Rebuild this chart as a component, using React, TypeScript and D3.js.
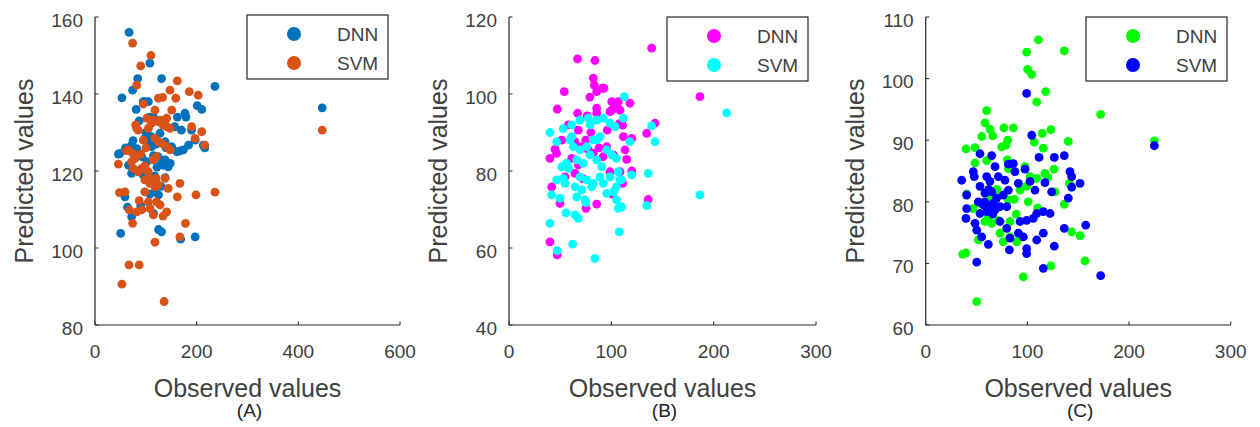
import React from "react";
import * as d3 from "d3";

type Pt = [number, number];

// Panel (A): observed vs predicted
const dnnA: Pt[] = [
  [67,156],[108,148],[131,144],[84,144],[74,141],[236,142],[447,136.4],[53,139],[95,138],[105,138],
  [81,136],[201,137],[210,136],[162,134],[179,134],[87,133],[107,134],[115,134],[46,124.4],[66,121.5],
  [72,119.4],[148,122],[138,122],[130,121.7],[184,126.7],[216,126],[167,125.2],[59,113.3],[64,110.6],[72,108.1],
  [50.5,103.8],[125,104.8],[131,104.2],[168.5,102.3],[197,102.9],[118,114.6],[125,113.8],[75,127.9],[72,126.7],[82,125.8],
  [98,128.5],[105,127.2],[111.5,126.3],[128,129.8],[138,127.6],[151,126.3],[161,125],[174,125.5],[49,124.6],[69,121.5],
  [92,123.7],[102,122.4],[134,121.5],[144,121.1],[190,130.6],[197,128],[213,126.7],[157,131.5],[170,130.6],[124.6,123.7],
  [138,122.9],[118,118.7],[138,118.3],[177,135],[98,138],[110,129],[120,127],[115,124],[100,130],[130,116],
  [85,120],[95,119],[140,126],[122,121],[108,114],[115,109],[60,126],[90,111]
];
const svmA: Pt[] = [
  [74,153.2],[110,150],[90,147.3],[82,142.3],[162,143.4],[147.5,141],[159,138.9],[185.5,140.6],[203,139.7],[124.6,138.9],
  [133,139.1],[95,137.4],[151,135.8],[118,135.8],[101.7,133.7],[114.7,133.2],[124.6,132.8],[137.7,133.2],[147.5,131.1],[190,131.5],
  [210,130.2],[82,131.1],[216,126.7],[46,121.8],[62,125.3],[74,124.6],[90,124.4],[72,122.4],[75,120.7],[92,120.7],
  [98,121.3],[105,119.8],[108,118.1],[115,116.8],[124.6,116.4],[120,118.1],[137.7,118.1],[144,115.5],[167,116.8],[162,113.3],
  [198.7,113.8],[236,114.5],[48,114.4],[59,114.6],[98,114.6],[87,112.3],[105,112],[121,112],[128,111.2],[108,110.3],
  [92,109.9],[82,109.4],[67.5,109.9],[141,109.4],[114.7,108.6],[134,108.3],[74,106.4],[178,106.4],[167,102.9],[118,101.5],
  [67,95.6],[87,95.6],[53,90.6],[136,86.1],[447,130.6],[85,130.6],[105,131.1],[111.5,132.4],[128,133.2],[134,131.9],
  [141,131.5],[118,128.5],[124.6,127.6],[131,127.2],[141,126.3],[147.5,125.5],[197,128.5],[65.6,125.5],[79,123.3],[85,119.8],
  [114.7,122.9],[121,123.7],[98,117.7],[108,116.8],[118,115.9],[141,133.7],[80,132],[100,126],[95,128]
];

// Panel (B)
const dnnB: Pt[] = [
  [139.4,111.9],[67,109.1],[84,108.7],[82.4,104.1],[83.4,102.3],[85.7,100.6],[92.8,101.5],[79,99.2],[54,100.6],[47.2,96.1],
  [186.6,99.3],[85.7,96.3],[85.7,95],[100.4,98],[106.8,98],[103.6,96.3],[108.5,95.8],[118.2,97.6],[98.7,95.4],[67,95],
  [76.5,94.3],[107.8,92.3],[111,91.9],[67.7,90.6],[96,90.6],[142.7,92.4],[134.6,89.8],[111.7,88.9],[120,88.5],[113.4,85.5],
  [45,85.6],[40,83.3],[51.5,88],[64.5,87.6],[71,86.3],[77.5,85.5],[82.4,84.6],[95.5,86.3],[102,84.2],[92,83.7],
  [61.3,83.3],[67.7,81.6],[98.7,79.8],[41.7,75.9],[54.7,78.5],[64.5,79.4],[49.8,71.6],[75.2,70.3],[85.7,71.4],[101,74],
  [111,76.8],[136,72.6],[40,61.6],[47.2,58.2],[108.5,79.8],[46.5,84.6],[91.5,101.5],[105,96.7],[100.4,95.8],[75,88],
  [88,86],[80,90],[58,92],[115,83],[120,80],[72,78]
];
const svmB: Pt[] = [
  [112.7,99.3],[212.7,95.1],[186.6,73.8],[139.4,91.7],[142.7,87.6],[136.1,79.4],[134.6,71],[111.7,93.7],[118.2,87.6],[119.9,79],
  [110,77.7],[110,70.7],[107.8,64.2],[105,72.5],[106.8,70.3],[40,90],[46.6,87.6],[53,91],[61.3,88.9],[69.4,93.2],
  [77.5,93.7],[85.7,93.2],[92,93.7],[51.5,81.1],[58,80.7],[46.6,77.7],[54.7,76.8],[41.7,73.8],[49.8,72.9],[55.7,69.1],
  [64.5,68.6],[67.7,67.7],[40,66.4],[47.2,59.3],[62.2,61],[84,57.3],[75.2,71.8],[95.5,74.2],[102,74.6],[59.6,88.1],
  [62.8,86.3],[69.4,85.5],[75.9,86.3],[82.4,88.1],[88.9,88.9],[95.5,85.5],[100.4,84.2],[105,83.3],[66.2,82.9],[72.6,82],
  [79.2,84.2],[85.7,82.9],[90.6,81.1],[69.4,78.5],[75.9,77.7],[82.4,76.8],[88.9,78.5],[64.5,75.9],[71,75.1],[66.2,73.3],
  [74.3,72.5],[80.8,75.9],[92.2,76.8],[98.7,78.5],[106.8,79.8],[105,75.9],[108.5,77.7],[56.4,82],[53.1,78.1],[85.7,88.1],
  [98.7,92.4],[103.6,91.5],[61.3,92],[79.2,92]
];

// Panel (C)
const dnnC: Pt[] = [
  [110.8,106.3],[99.3,104.3],[136.3,104.5],[100.3,101.5],[104.3,100.7],[118,97.9],[109.2,96.2],[172.1,94.2],[60,94.8],[58.3,92.8],
  [63.2,91.8],[65.9,90.7],[55.1,90.6],[77,92],[86.2,92],[123.2,91.7],[114.7,91.1],[80.6,90],[74.8,88.9],[79,89.2],
  [106.8,89.7],[115.7,88.7],[140.3,89.8],[39.6,88.6],[48.5,88.8],[48.5,86.3],[60,86.7],[80.3,86.8],[81.3,85.4],[97.7,85.7],
  [126.2,85.3],[117.3,84.6],[141.3,83],[143.6,82.4],[102.6,84.1],[109.2,83.8],[127.2,81.6],[87.2,80.4],[100.9,80],[136.3,79.6],
  [40.3,81.3],[53.4,79.8],[46.8,78.9],[61.6,77.6],[58.3,76.8],[64.9,76.5],[82.9,76.8],[73.1,74.9],[76.3,73.5],[89.5,73.5],
  [82.9,74.3],[51.7,73.8],[94.4,74.3],[143.6,75.1],[151.8,74.5],[36.4,71.5],[39.6,71.7],[156.7,70.4],[123.2,69.6],[96,67.8],
  [50.2,63.8],[224.9,89.9],[99.3,82.5],[92.8,81.9],[81.3,80.3],[71.4,77],[70,82],[64,80.5],[89,78],[110,79],
  [120,84]
];
const svmC: Pt[] = [
  [99.3,97.6],[104.3,90.8],[53.4,87.8],[64.9,87.5],[111.5,87.2],[126.5,87.2],[136.3,87.5],[46.8,84.9],[47.8,84.1],[35.4,83.5],
  [40.3,81.1],[40.3,78.9],[39.6,77.3],[68.2,85.7],[81.3,86.1],[87.8,84.9],[97.7,85.3],[60,84.1],[63.2,83.3],[71.4,84.1],
  [78,83.5],[91.1,83],[102.6,83.3],[107.5,81.9],[117.3,83.1],[123.9,81.6],[141.9,84.9],[143.6,84.1],[151.8,83],[143.6,82.4],
  [140.3,80.6],[53.4,82.5],[58.3,81.4],[64.9,81.6],[69.8,80.6],[76.3,81.1],[81.3,81.9],[51.7,80],[56.7,79.5],[61.6,79.2],
  [66.5,79.8],[73.1,79.2],[79.7,79.2],[53.4,78.1],[60,78.4],[68.2,78.7],[48.5,76.5],[50.2,75.4],[55.1,74.3],[61.6,73.1],
  [50.2,70.2],[73.1,76.8],[79.7,75.7],[82.9,74.1],[82.3,72.2],[92.8,76.8],[99.3,77],[105.8,77.3],[109.2,78.1],[115.7,78.4],
  [122.3,78.1],[91.1,74.9],[96,74.3],[109.2,73.8],[115.7,74.9],[99.3,72.4],[99.3,71.6],[126.5,72.8],[136.3,75.7],[157.4,76.2],
  [115.7,69.2],[172.1,68],[224.9,89.1],[86.2,86.2],[58,80],[62,82],[66,78]
];

const seriesNames = ["DNN", "SVM"];
const xTicksA = [0, 200, 400, 600];
const yTicksA = [80, 100, 120, 140, 160];
const xTicksBC = [0, 100, 200, 300];
const yTicksB = [40, 60, 80, 100, 120];
const yTicksC = [60, 70, 80, 90, 100, 110];
const panelLabels = ["(A)", "(B)", "(C)"];
const xTitle = "Observed values";
const yTitle = "Predicted values";

const panels = [
  { left: 95, right: 400, xDom: [0, 600], yDom: [80, 160], xTicks: xTicksA, yTicks: yTicksA,
    series: [dnnA, svmA], colors: ["#0072BD", "#D95319"], legendX: 247, legendY: 15, label: panelLabels[0] },
  { left: 509, right: 816, xDom: [0, 300], yDom: [40, 120], xTicks: xTicksBC, yTicks: yTicksB,
    series: [dnnB, svmB], colors: ["#FF00FF", "#00FFFF"], legendX: 667, legendY: 17, label: panelLabels[1] },
  { left: 925.7, right: 1230.7, xDom: [0, 300], yDom: [60, 110], xTicks: xTicksBC, yTicks: yTicksC,
    series: [dnnC, svmC], colors: ["#00FF00", "#0000FF"], legendX: 1086, legendY: 17, label: panelLabels[2] },
];

const TOP = 17;
const BOTTOM = 325;
const AX = "#262626";
const TXT = "#404040";
const FONT = "'Liberation Sans', Arial, Helvetica, sans-serif";

function Panel({ p }: { p: typeof panels[number] }) {
  const x = d3.scaleLinear().domain(p.xDom).range([p.left, p.right]);
  const y = d3.scaleLinear().domain(p.yDom).range([BOTTOM, TOP]);
  const cx = (p.left + p.right) / 2;
  const cy = (TOP + BOTTOM) / 2;
  const lw = 141, lh = 64;
  return (
    <g fontFamily={FONT}>
      {p.series.map((s, si) => (
        <g key={si} fill={p.colors[si]}>
          {s.map((d, i) => (
            <circle key={i} cx={x(d[0])} cy={y(d[1])} r={4.4} />
          ))}
        </g>
      ))}
      <line x1={p.left} x2={p.left} y1={TOP} y2={BOTTOM} stroke={AX} strokeWidth={1.2} />
      <line x1={p.left} x2={p.right} y1={BOTTOM} y2={BOTTOM} stroke={AX} strokeWidth={1.2} />
      {p.yTicks.map((t) => (
        <g key={"y" + t}>
          <line x1={p.left} x2={p.left + 3.5} y1={y(t)} y2={y(t)} stroke={AX} strokeWidth={1} />
          <text x={p.left - 12} y={y(t) + 3} dy="0.36em" textAnchor="end" fontSize={19} fill={TXT}>{t}</text>
        </g>
      ))}
      {p.xTicks.map((t) => (
        <g key={"x" + t}>
          <line x1={x(t)} x2={x(t)} y1={BOTTOM} y2={BOTTOM - 3.5} stroke={AX} strokeWidth={1} />
          <text x={x(t)} y={BOTTOM + 33} textAnchor="middle" fontSize={19} fill={TXT}>{t}</text>
        </g>
      ))}
      <text x={cx} y={BOTTOM + 72} textAnchor="middle" fontSize={25} fill={TXT}>{xTitle}</text>
      <text x={cx + 2} y={BOTTOM + 92} textAnchor="middle" fontSize={19} fill="#222">{p.label}</text>
      <text transform={`translate(${p.left - 62},${cy}) rotate(-90)`} textAnchor="middle" fontSize={25} fill={TXT}>{yTitle}</text>
      <g>
        <rect x={p.legendX} y={p.legendY} width={lw} height={lh} fill="#fff" stroke={AX} strokeWidth={1.2} />
        {seriesNames.map((n, i) => (
          <g key={n}>
            <circle cx={p.legendX + 47} cy={p.legendY + 19 + i * 29} r={7} fill={p.colors[i]} />
            <text x={p.legendX + 90} y={p.legendY + 19 + i * 29} dy="0.36em" fontSize={19} fill={TXT}>{n}</text>
          </g>
        ))}
      </g>
    </g>
  );
}

export default function App() {
  return (
    <svg width={1260} height={427} style={{ position: "absolute", left: 0, top: 0, background: "#fff" }}>
      <rect width={1260} height={427} fill="#fff" />
      {panels.map((p, i) => (
        <Panel key={i} p={p} />
      ))}
    </svg>
  );
}
